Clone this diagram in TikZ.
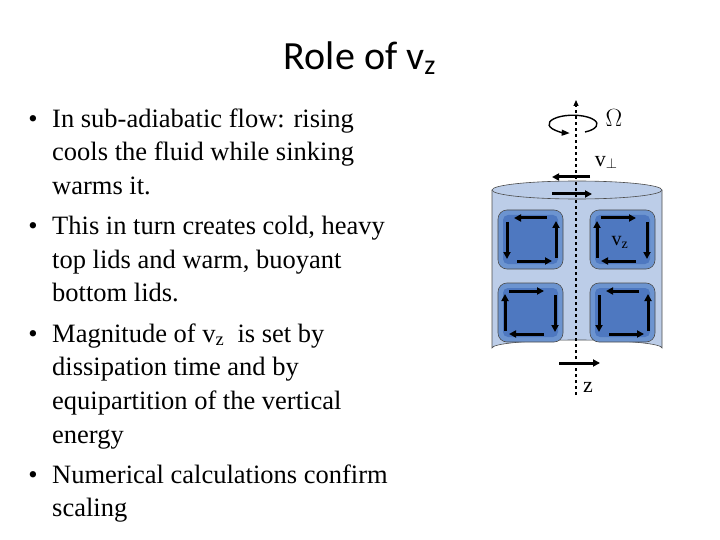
\documentclass[tikz,border=0pt]{standalone}
\usepackage{fontspec}
\setmainfont{Liberation Serif}
\newfontfamily\titlefont{Carlito}
\usetikzlibrary{arrows.meta}
\definecolor{cyl}{RGB}{188,205,232}
\definecolor{boxo}{RGB}{108,148,208}
\definecolor{boxi}{RGB}{78,120,192}
\tikzset{
  txt/.style={anchor=base west,inner sep=0,font=\fontsize{26.5}{26.5}\selectfont},
  bul/.style={anchor=base,inner sep=0,font=\fontsize{26.5}{26.5}\selectfont},
  flow/.style={line width=3pt,-{Triangle[length=7pt,width=7pt]}},
  cell/.style={draw=black!70,line width=0.6pt,fill=boxo,rounded corners=9pt},
  celli/.style={fill=boxi},
}
\begin{document}
\begin{tikzpicture}[x=1pt,y=-1pt]
\useasboundingbox (0,0) rectangle (720,540);
\node[inner sep=0,anchor=base,font=\titlefont\fontsize{40}{40}\selectfont] (title) at (360,70) {Role of v\textsubscript{z}};
\node[txt] (l1) at (52,128) {In sub-adiabatic flow: rising};
\node[txt] (l2) at (52,161) {cools the fluid while sinking};
\node[txt] (l3) at (52,195) {warms it.};
\node[txt] (l4) at (52,235) {This in turn creates cold, heavy};
\node[txt] (l5) at (52,268) {top lids and warm, buoyant};
\node[txt] (l6) at (52,301) {bottom lids.};
\node[txt] (l7) at (52,342) {Magnitude of v\textsubscript{z}\ \ is set by};
\node[txt] (l8) at (52,375) {dissipation time and by};
\node[txt] (l9) at (52,409) {equipartition of the vertical};
\node[txt] (l10) at (52,443) {energy};
\node[txt] (l11) at (52,483) {Numerical calculations confirm};
\node[txt] (l12) at (52,516) {scaling};
\foreach \y [count=\i] in {128,235,342,483}
  \node[bul] (b\i) at (33,\y) {•};
% cylinder
\fill[cyl,draw=black!70,line width=0.6pt] (492,190) -- (492,348) arc[start angle=180,end angle=360,x radius=85,y radius=8] -- (662,190);
\draw[fill=cyl,draw=black!70,line width=0.6pt] (577,190) ellipse[x radius=85,y radius=9];
% cells
\foreach \x/\y/\n in {498/210/ul,590/210/ur,498/283/ll,590/283/lr}{
  \draw[cell] (\x,\y) rectangle ++(65,59);
  \fill[celli,rounded corners=5pt] (\x+5,\y+5) rectangle ++(55,49);
  \coordinate (\n) at (\x,\y);
}
% upper-left: ccw
\draw[flow] ([shift={(49,8)}]ul) -- ++(-33,0);
\draw[flow] ([shift={(9,12)}]ul) -- ++(0,37);
\draw[flow] ([shift={(19,51)}]ul) -- ++(35,0);
\draw[flow] ([shift={(58,48)}]ul) -- ++(0,-37);
% lower-right: ccw
\draw[flow] ([shift={(49,8)}]lr) -- ++(-33,0);
\draw[flow] ([shift={(9,12)}]lr) -- ++(0,37);
\draw[flow] ([shift={(19,51)}]lr) -- ++(35,0);
\draw[flow] ([shift={(58,48)}]lr) -- ++(0,-37);
% upper-right: cw
\draw[flow] ([shift={(11,8)}]ur) -- ++(35,0);
\draw[flow] ([shift={(57,12)}]ur) -- ++(0,37);
\draw[flow] ([shift={(46,51)}]ur) -- ++(-35,0);
\draw[flow] ([shift={(7,48)}]ur) -- ++(0,-37);
% lower-left: cw
\draw[flow] ([shift={(11,8)}]ll) -- ++(35,0);
\draw[flow] ([shift={(57,12)}]ll) -- ++(0,37);
\draw[flow] ([shift={(46,51)}]ll) -- ++(-35,0);
\draw[flow] ([shift={(7,48)}]ll) -- ++(0,-37);
% axis
\coordinate (atop) at (576,100);
\coordinate (abot) at (576,395);
\draw[dashed,line width=1.2pt,-{Triangle[length=6pt,width=5pt]}] (abot) -- (atop);
% rotation
\draw[line width=1.4pt,-{Triangle[length=8pt,width=6pt]}] (585,132) arc[start angle=60,end angle=-262,x radius=24,y radius=9];
\node[inner sep=0,font=\fontsize{24}{24}\selectfont] (om) at (614,118) {$\Omega$};
\node[inner sep=0,font=\fontsize{22}{22}\selectfont] (vp) at (606,162) {v\raisebox{-2pt}{$\scriptstyle\perp$}};
\node[inner sep=0,font=\fontsize{20}{20}\selectfont] (vz) at (620,242) {v\textsubscript{z}};
\node[inner sep=0,font=\fontsize{22}{22}\selectfont] (z) at (588,387) {z};
\draw[flow] (590,177) -- (552,177);
\draw[flow] (552,194) -- (592,194);
\draw[flow] (559,363) -- (600,363);
\end{tikzpicture}
\end{document}
